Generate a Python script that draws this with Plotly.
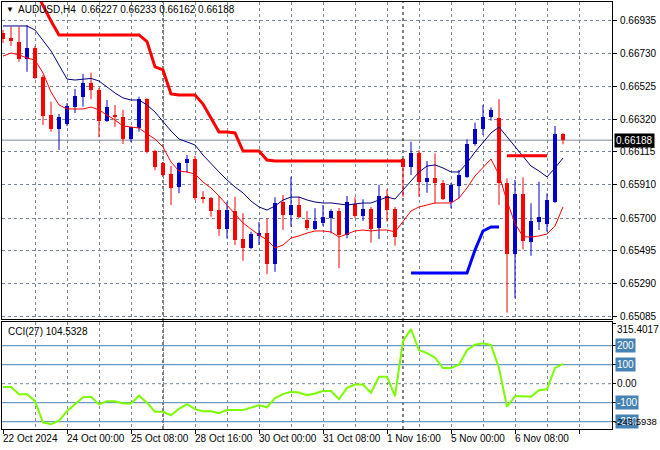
import plotly.graph_objects as go

# ---------------- data ----------------
symbol_title = "AUDUSD,H4  0.66227 0.66233 0.66162 0.66188"
bars = list(range(71))

opens = [0.66858, 0.66825, 0.66802, 0.66696, 0.66762, 0.66585, 0.66345, 0.66258, 0.66289, 0.66397,
         0.66460, 0.66544, 0.66502, 0.66310, 0.66345, 0.66331, 0.66193, 0.66262, 0.66444, 0.66120,
         0.66043, 0.65976, 0.65893, 0.66047, 0.66068, 0.65831, 0.65824, 0.65751, 0.65632, 0.65745,
         0.65570, 0.65512, 0.65590, 0.65605, 0.65413, 0.65799, 0.65720, 0.65782, 0.65689, 0.65632,
         0.65672, 0.65699, 0.65745, 0.65595, 0.65789, 0.65716, 0.65757, 0.65641, 0.65839, 0.65756,
         0.66068, 0.66018, 0.66110, 0.65928, 0.65949, 0.65918, 0.65800, 0.65901, 0.65959, 0.66164,
         0.66256, 0.66335, 0.66325, 0.65918, 0.65474, 0.65849, 0.65553, 0.65678, 0.65662, 0.65803,
         0.66227]
highs = [0.66877, 0.66898, 0.66898, 0.66908, 0.66777, 0.66595, 0.66428, 0.66351, 0.66420, 0.66508,
         0.66602, 0.66610, 0.66514, 0.66439, 0.66408, 0.66377, 0.66272, 0.66460, 0.66450, 0.66126,
         0.66051, 0.66026, 0.66050, 0.66095, 0.66089, 0.65868, 0.65832, 0.65839, 0.65803, 0.65834,
         0.65731, 0.65615, 0.65676, 0.65699, 0.65831, 0.65845, 0.65959, 0.65834, 0.65745, 0.65762,
         0.65782, 0.65756, 0.65764, 0.65839, 0.65831, 0.65818, 0.65770, 0.65908, 0.65881, 0.65770,
         0.66076, 0.66178, 0.66126, 0.66058, 0.66106, 0.65939, 0.65920, 0.66001, 0.66193, 0.66297,
         0.66408, 0.66393, 0.66444, 0.65949, 0.65939, 0.65956, 0.65793, 0.65928, 0.65856, 0.66277,
         0.66233]
lows = [0.66796, 0.66777, 0.66679, 0.66616, 0.66570, 0.66283, 0.66241, 0.66126, 0.66276, 0.66358,
        0.66397, 0.66444, 0.66206, 0.66302, 0.66272, 0.66164, 0.66176, 0.66241, 0.66106, 0.66001,
        0.65964, 0.65782, 0.65856, 0.65984, 0.65814, 0.65793, 0.65709, 0.65590, 0.65574, 0.65532,
        0.65434, 0.65507, 0.65532, 0.65351, 0.65365, 0.65626, 0.65647, 0.65701, 0.65626, 0.65626,
        0.65651, 0.65605, 0.65387, 0.65574, 0.65701, 0.65682, 0.65547, 0.65570, 0.65678, 0.65528,
        0.65834, 0.65970, 0.65834, 0.65859, 0.65793, 0.65814, 0.65762, 0.65824, 0.65951, 0.66153,
        0.66220, 0.66310, 0.65782, 0.65109, 0.65199, 0.65505, 0.65465, 0.65626, 0.65615, 0.65795,
        0.66162]
closes = [0.66821, 0.66810, 0.66696, 0.66762, 0.66579, 0.66339, 0.66258, 0.66331, 0.66402, 0.66464,
          0.66544, 0.66502, 0.66310, 0.66393, 0.66333, 0.66193, 0.66268, 0.66444, 0.66116, 0.66022,
          0.65972, 0.65891, 0.66043, 0.66068, 0.65824, 0.65818, 0.65748, 0.65634, 0.65751, 0.65564,
          0.65515, 0.65601, 0.65605, 0.65413, 0.65793, 0.65720, 0.65782, 0.65709, 0.65637, 0.65682,
          0.65706, 0.65745, 0.65595, 0.65799, 0.65716, 0.65756, 0.65632, 0.65839, 0.65751, 0.65584,
          0.66018, 0.66110, 0.65928, 0.65949, 0.65918, 0.65820, 0.65908, 0.65970, 0.66164, 0.66256,
          0.66331, 0.66377, 0.65918, 0.65474, 0.65849, 0.65559, 0.65682, 0.65707, 0.65814, 0.66227,
          0.66188]

upper_line = [0.66902, 0.66902, 0.66902, 0.66902, 0.66877, 0.66814, 0.66746, 0.66658, 0.66570, 0.66564,
              0.66570, 0.66574, 0.66558, 0.66520, 0.66483, 0.66452, 0.66439, 0.66439, 0.66408, 0.66364,
              0.66302, 0.66245, 0.66195, 0.66176, 0.66158, 0.66095, 0.66039, 0.65989, 0.65939, 0.65895,
              0.65858, 0.65807, 0.65770, 0.65751, 0.65776, 0.65814, 0.65832, 0.65832, 0.65814, 0.65801,
              0.65795, 0.65795, 0.65789, 0.65782, 0.65789, 0.65795, 0.65795, 0.65814, 0.65832, 0.65820,
              0.65876, 0.65926, 0.65989, 0.66026, 0.66033, 0.66014, 0.65989, 0.65989, 0.66045, 0.66114,
              0.66176, 0.66233, 0.66270, 0.66208, 0.66145, 0.66083, 0.66026, 0.65995, 0.65958, 0.66014,
              0.66076]
lower_line = [0.66714, 0.66733, 0.66721, 0.66702, 0.66689, 0.66608, 0.66489, 0.66408, 0.66383, 0.66383,
              0.66383, 0.66395, 0.66377, 0.66345, 0.66314, 0.66276, 0.66270, 0.66264, 0.66227, 0.66195,
              0.66145, 0.66051, 0.65995, 0.65989, 0.65976, 0.65926, 0.65889, 0.65839, 0.65782, 0.65726,
              0.65670, 0.65632, 0.65595, 0.65564, 0.65514, 0.65532, 0.65576, 0.65589, 0.65607, 0.65620,
              0.65620, 0.65614, 0.65582, 0.65601, 0.65620, 0.65626, 0.65620, 0.65626, 0.65626, 0.65614,
              0.65676, 0.65745, 0.65770, 0.65782, 0.65795, 0.65795, 0.65795, 0.65826, 0.65889, 0.65964,
              0.66020, 0.66070, 0.65970, 0.65807, 0.65668, 0.65584, 0.65582, 0.65589, 0.65601, 0.65651,
              0.65770]
N = None
stop_down = [N, N, N, N, 0.67127, 0.67027, 0.66933, 0.66846, 0.66846, 0.66846,
             0.66846, 0.66846, 0.66846, 0.66846, 0.66846, 0.66846, 0.66846, 0.66846, 0.66804, 0.66646,
             0.66627, 0.66477, 0.66470, 0.66470, 0.66470, 0.66414, 0.66327, 0.66239, 0.66239, 0.66233,
             0.66120, 0.66120, 0.66120, 0.66064, 0.66058, 0.66058, 0.66058, 0.66058, 0.66058, 0.66058,
             0.66058, 0.66058, 0.66058, 0.66058, 0.66058, 0.66058, 0.66058, 0.66058, 0.66058, 0.66058,
             0.66058, N, N, N, N, N, N, N, N, N,
             N, N, N, 0.66091, 0.66091, 0.66091, 0.66091, 0.66091, 0.66091, N,
             N]
stop_up = [N] * 51 + [0.65357, 0.65357, 0.65357, 0.65357, 0.65357, 0.65357, 0.65357, 0.65357,
                      0.65501, 0.65620, 0.65645, 0.65645] + [N] * 8
cci = [-17, -17, -55, -55, -92, -203, -213, -195, -145, -108,
       -71, -69, -109, -92, -92, -104, -104, -63, -100, -148,
       -148, -166, -132, -108, -134, -145, -145, -155, -139, -139,
       -139, -126, -113, -124, -76, -55, -43, -46, -60, -52,
       -39, -39, -82, -22, -4, -4, -48, 36, 36, -66,
       224, 287, 176, 161, 137, 82, 82, 100, 176, 205,
       213, 203, 82, -121, -66, -66, -69, -34, -29, 83,
       104.53]

price_ticks = ["0.66935", "0.66730", "0.66525", "0.66320", "0.66115",
               "0.65910", "0.65700", "0.65495", "0.65290", "0.65085"]
last_price = "0.66188"
time_label_bars = [0, 8, 16, 24, 32, 40, 48, 56, 64]
time_labels = ["22 Oct 2024", "24 Oct 00:00", "25 Oct 08:00", "28 Oct 16:00", "30 Oct 00:00",
               "31 Oct 08:00", "1 Nov 16:00", "5 Nov 00:00", "6 Nov 08:00"]
week_separators = [20, 50]
cci_title = "CCI(27) 104.5328"
cci_levels = [200, 100, -100, -200]
cci_max, cci_min = 315.4017, -243.5938

# ---------------- styling ----------------
BULL = "#0000CC"
BEAR = "#FF0000"
GRID = "#778899"
FONT = "Liberation Sans, Arial, sans-serif"

fig = go.Figure()

n = len(bars)
bull = [i for i in range(n) if closes[i] > opens[i]]
bear = [i for i in range(n) if closes[i] <= opens[i]]


def wicks(idx):
    xs, ys = [], []
    for i in idx:
        xs += [bars[i], bars[i], None]
        ys += [lows[i], highs[i], None]
    return xs, ys


for idx, col in ((bull, BULL), (bear, BEAR)):
    wx, wy = wicks(idx)
    fig.add_trace(go.Scatter(x=wx, y=wy, mode="lines", line=dict(color=col, width=1),
                             hoverinfo="skip", showlegend=False))
    fig.add_trace(go.Bar(x=[bars[i] for i in idx],
                         base=[min(opens[i], closes[i]) for i in idx],
                         y=[max(abs(closes[i] - opens[i]), 0.00002) for i in idx],
                         width=0.62, marker=dict(color=col, line=dict(width=0)),
                         showlegend=False))

fig.add_trace(go.Scatter(x=bars, y=upper_line, mode="lines",
                         line=dict(color="#000080", width=1), showlegend=False))
fig.add_trace(go.Scatter(x=bars, y=lower_line, mode="lines",
                         line=dict(color="#FF0000", width=1), showlegend=False))
fig.add_trace(go.Scatter(x=bars, y=stop_down, mode="lines",
                         line=dict(color="#FF0000", width=3), showlegend=False))
fig.add_trace(go.Scatter(x=bars, y=stop_up, mode="lines",
                         line=dict(color="#0000FF", width=3), showlegend=False))

fig.add_trace(go.Scatter(x=bars, y=cci, mode="lines", xaxis="x2", yaxis="y2",
                         line=dict(color="#7CFC00", width=2), showlegend=False))

shapes = []
shapes.append(dict(type="line", xref="paper", x0=0, x1=1, yref="y",
                   y0=float(last_price), y1=float(last_price),
                   line=dict(color=GRID, width=1), layer="between"))
for s in week_separators:
    shapes.append(dict(type="line", xref="x", x0=s, x1=s, yref="paper", y0=0, y1=1,
                       line=dict(color="black", width=1, dash="3px,3px"), layer="between"))
for lv in cci_levels:
    shapes.append(dict(type="line", xref="paper", x0=0, x1=1, yref="y2", y0=lv, y1=lv,
                       line=dict(color="#4682B4", width=1), layer="between"))
shapes.append(dict(type="line", xref="paper", x0=0, x1=1, yref="y2", y0=0, y1=0,
                   line=dict(color=GRID, width=1, dash="3px,3px"), layer="between"))

annotations = []
annotations.append(dict(text="▼", xref="paper", yref="paper", x=0, y=0.9813,
                        xanchor="left", yanchor="middle", xshift=2, showarrow=False,
                        font=dict(size=8, color="black", family=FONT)))
annotations.append(dict(text=symbol_title, xref="paper", yref="paper", x=0, y=0.9813,
                        xanchor="left", yanchor="middle", xshift=14, showarrow=False,
                        font=dict(size=10, color="black", family=FONT)))
annotations.append(dict(text=cci_title, xref="paper", yref="paper", x=0, y=0.2295,
                        xanchor="left", yanchor="middle", xshift=4, showarrow=False,
                        font=dict(size=10, color="black", family=FONT)))
annotations.append(dict(text=last_price, xref="paper", yref="y", x=1, y=float(last_price),
                        xanchor="left", yanchor="middle", xshift=2, showarrow=False,
                        bgcolor="black", borderpad=1,
                        font=dict(size=10, color="white", family=FONT)))
for lv in cci_levels:
    annotations.append(dict(text=str(lv), xref="paper", yref="y2", x=1, y=lv,
                            xanchor="left", yanchor="middle", xshift=3, showarrow=False,
                            bgcolor="#4682B4", borderpad=1,
                            font=dict(size=10, color="white", family=FONT)))
annotations.append(dict(text="0.00", xref="paper", yref="y2", x=1, y=0,
                        xanchor="left", yanchor="middle", xshift=3, showarrow=False,
                        font=dict(size=10, color="black", family=FONT)))
annotations.append(dict(text=f"{cci_max:.4f}", xref="paper", yref="paper", x=1, y=0.2319,
                        xanchor="left", yanchor="middle", xshift=3, showarrow=False,
                        font=dict(size=10, color="black", family=FONT)))
annotations.append(dict(text=f"{cci_min:.4f}", xref="paper", yref="paper", x=1, y=0.0164,
                        xanchor="left", yanchor="middle", xshift=0, showarrow=False,
                        font=dict(size=9.5, color="black", family=FONT)))
for b, t in zip(time_label_bars, time_labels):
    annotations.append(dict(text=t, xref="x2", yref="paper", x=b, y=0,
                            xanchor="left", yanchor="top", xshift=-2, yshift=-2, showarrow=False,
                            font=dict(size=10, color="black", family=FONT)))

xr = [-0.125, 76.125]
fig.update_layout(
    width=660, height=450,
    margin=dict(l=2, r=48, t=2, b=21, autoexpand=False),
    paper_bgcolor="white", plot_bgcolor="white",
    barmode="overlay", bargap=0,
    font=dict(family=FONT, size=10, color="black"),
    showlegend=False,
    shapes=shapes, annotations=annotations,
    xaxis=dict(domain=[0, 1], range=xr, anchor="y", tick0=0, dtick=4, automargin=False,
               showgrid=True, gridcolor=GRID, griddash="3px,3px", gridwidth=1,
               showticklabels=False, ticks="", zeroline=False,
               showline=True, linecolor="black", linewidth=1, mirror=True),
    yaxis=dict(domain=[0.25761, 1], range=[0.650695, 0.67052], anchor="x", side="right",
               automargin=False,
               tickmode="array", tickvals=[float(p) for p in price_ticks], ticktext=price_ticks,
               ticks="outside", ticklen=4, tickcolor="black", ticklabelstandoff=1,
               showgrid=True, gridcolor=GRID, griddash="3px,3px", gridwidth=1,
               zeroline=False, showline=True, linecolor="black", linewidth=1, mirror=True,
               tickfont=dict(size=10, color="black", family=FONT)),
    xaxis2=dict(domain=[0, 1], range=xr, anchor="y2", tick0=0, dtick=8, automargin=False,
                showgrid=True, gridcolor=GRID, griddash="3px,3px", gridwidth=1,
                minor=dict(tick0=4, dtick=8, showgrid=True, gridcolor=GRID,
                           griddash="3px,3px", ticks=""),
                showticklabels=False, ticks="outside", ticklen=4, tickcolor="black",
                zeroline=False, showline=True, linecolor="black", linewidth=1, mirror=True),
    yaxis2=dict(domain=[0, 0.25059], range=[-238.4, 324.7], anchor="x2", side="right",
                automargin=False,
                tickmode="array", tickvals=[cci_max, 200, 100, 0, -100, -200],
                ticktext=["", "", "", "", "", ""], ticks="outside", ticklen=3, tickcolor="black",
                showgrid=False, zeroline=False, showline=True, linecolor="black",
                linewidth=1, mirror=True),
)

fig.write_html("out.html", config={"displayModeBar": False},
               post_script="document.body.style.margin='0px';document.body.style.overflow='hidden';")
